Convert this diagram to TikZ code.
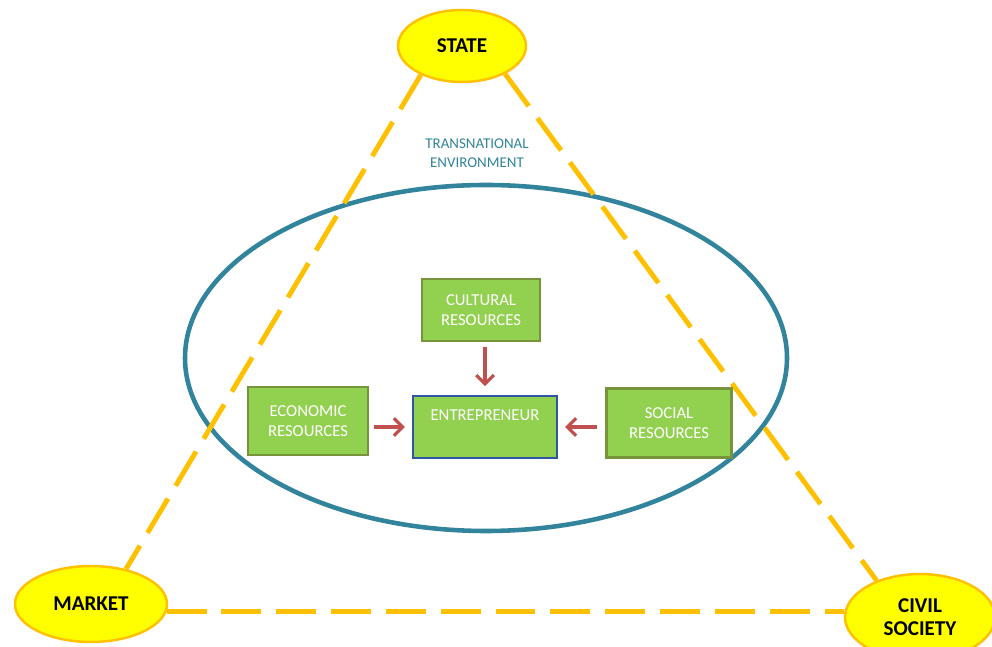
\documentclass[tikz,border=0pt]{standalone}
\usepackage{fontspec}
\setmainfont{Carlito}
\usepackage{tikz}
\usetikzlibrary{shapes,arrows.meta,positioning,calc}

\definecolor{sunyellow}{HTML}{FFFF00}
\definecolor{sunorange}{HTML}{FFC000}
\definecolor{envteal}{HTML}{31849B}
\definecolor{resgreen}{HTML}{92D050}
\definecolor{resborder}{HTML}{77933C}
\definecolor{entblue}{HTML}{2F55A4}
\definecolor{arrowred}{HTML}{C0504D}

\begin{document}
\begin{tikzpicture}[
    actor/.style={ellipse, draw=sunorange, line width=1.4pt, fill=sunyellow, inner sep=0pt, align=center, font=\fontsize{12}{13}\selectfont\bfseries},
    dashline/.style={draw=sunorange, line width=2.8pt, dash pattern=on 22.7pt off 8.5pt},
    resource/.style={rectangle, draw=resborder, line width=1.3pt, fill=resgreen, text=white, align=center, font=\fontsize{9.5}{11.5}\selectfont},
    resarrow/.style={draw=arrowred, line width=1.8pt, -{Straight Barb[length=5pt,width=10pt]}}
]
\clip (0,0) rectangle (19.84,12.94);

% Transnational environment
\draw[envteal, line width=2.6pt] (9.72,5.78) ellipse [x radius=6.02, y radius=3.46];
\node (env) at (9.54,9.88) [text=envteal, align=center, font=\fontsize{8.5}{11}\selectfont] {TRANSNATIONAL\\ENVIRONMENT};

% Actors
\node (state) at (9.24,12.02) [actor, minimum width=2.56cm, minimum height=1.44cm] {STATE};
\node (market) at (1.82,0.86) [actor, minimum width=3.04cm, minimum height=1.52cm] {MARKET};
\node (civil) at (18.4,0.6) [actor, minimum width=3.0cm, minimum height=1.72cm] {CIVIL\\SOCIETY};

% Triangle
\draw[dashline] (state.215) -- (market.45);
\draw[dashline] (state.-33) -- (civil.140);
\draw[dashline] (market.-6) -- (market.-6 -| civil.west);

% Resources
\node (cultural) at (9.62,6.74) [resource, minimum width=2.36cm, minimum height=1.24cm] {CULTURAL\\RESOURCES};
\node (economic) at (6.16,4.52) [resource, minimum width=2.4cm, minimum height=1.36cm] {ECONOMIC\\RESOURCES};
\node (social) at (13.38,4.48) [resource, minimum width=2.5cm, minimum height=1.38cm] {SOCIAL\\RESOURCES};
\node (entre) at (9.7,4.4) [resource, draw=entblue, minimum width=2.88cm, minimum height=1.24cm, text depth=14pt] {ENTREPRENEUR};

% Flows
\draw[resarrow, shorten <=3pt, shorten >=5pt] (cultural.south -| entre.north) -- (entre.north);
\draw[resarrow, shorten <=3pt, shorten >=4pt] (economic.east |- entre.west) -- (entre.west);
\draw[resarrow, shorten <=5pt, shorten >=4pt] (social.west |- entre.east) -- (entre.east);

\end{tikzpicture}
\end{document}
